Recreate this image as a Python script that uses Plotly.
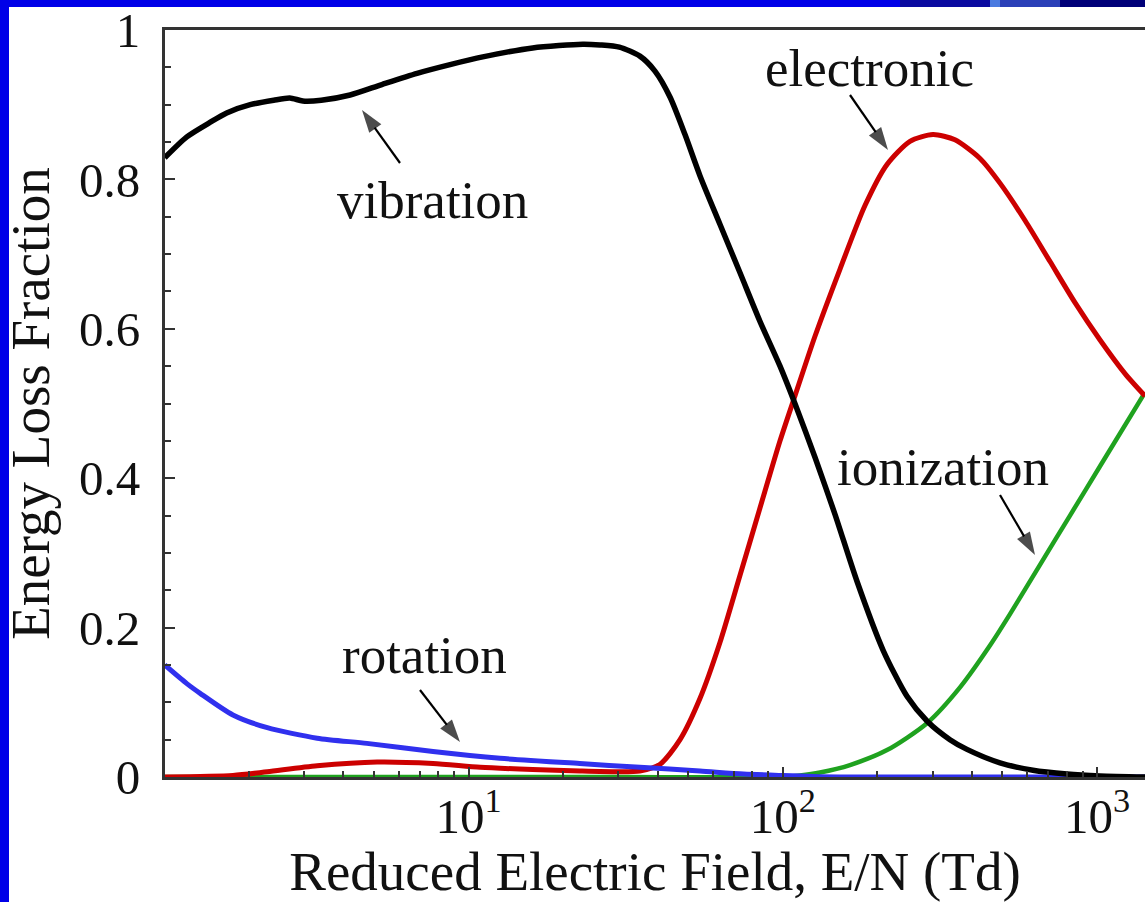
import plotly.graph_objects as go

# ---------------- data (E/N in Td, energy loss fraction) ----------------
vib_x = [1.08, 1.27, 1.50, 1.70, 2.02, 2.40, 2.70, 2.97, 3.4, 4.20, 5.3, 6.86, 8.8, 11.1,
         16.0, 23.1, 26.2, 30.2, 35.1, 39.2, 43.8, 48.85, 54.5, 63.1, 73.1, 84.6, 98.0,
         109.3, 126.6, 146.5, 172.2, 208.4, 248.4, 287.6, 340.4, 385.6, 491, 625, 802,
         1022, 1421]
vib_y = [0.829, 0.857, 0.876, 0.889, 0.900, 0.906, 0.909, 0.905, 0.906, 0.913, 0.927, 0.942,
         0.954, 0.964, 0.976, 0.981, 0.980, 0.977, 0.965, 0.945, 0.910, 0.860, 0.805,
         0.740, 0.675, 0.610, 0.550, 0.500, 0.428, 0.352, 0.262, 0.170, 0.108, 0.075,
         0.050, 0.037, 0.019, 0.009, 0.004, 0.0015, 0.0]

ele_x = [1.08, 1.78, 2.29, 3.30, 5.12, 7.71, 10.9, 16.0, 22.6, 30.0, 35.1, 40.7, 47.1,
         54.5, 63.1, 73.1, 84.6, 98.0, 109.3, 126.6, 152.1, 182.6, 214.6, 253.9, 300.5,
         353.1, 424.2, 491, 590, 708.5, 850.7, 1022, 1227, 1421]
ele_y = [0.0, 0.002, 0.007, 0.015, 0.020, 0.018, 0.013, 0.010, 0.008, 0.007, 0.008, 0.017,
         0.050, 0.105, 0.180, 0.270, 0.360, 0.450, 0.510, 0.590, 0.680, 0.765, 0.820,
         0.851, 0.860, 0.853, 0.828, 0.795, 0.745, 0.690, 0.635, 0.585, 0.540, 0.510]

ion_x = [1.08, 30, 100, 113.4, 131.3, 163.6, 214.6, 287.6, 366.3, 456.2, 528.3, 658.1,
         820.0, 1021.7, 1421]
ion_y = [0.0, 0.0, 0.0, 0.002, 0.006, 0.016, 0.036, 0.072, 0.120, 0.176, 0.218, 0.284,
         0.350, 0.416, 0.515]

rot_x = [1.08, 1.27, 1.40, 1.78, 2.29, 3.30, 4.75, 7.71, 12.6, 22.6, 35.1, 54.5, 75, 100,
         130, 170, 400, 1421]
rot_y = [0.150, 0.125, 0.112, 0.083, 0.066, 0.052, 0.045, 0.034, 0.025, 0.018, 0.013, 0.008,
         0.004, 0.002, 0.0005, 0.0, 0.0, 0.0]

y_ticks = [0, 0.2, 0.4, 0.6, 0.8, 1.0]
y_ticktext = ["0", "0.2", "0.4", "0.6", "0.8", "1"]
x_ticks = [10, 100, 1000]
x_ticktext = ["10<sup>1</sup>", "10<sup>2</sup>", "10<sup>3</sup>"]
x_minor = [m * 10 ** e for e in range(0, 4) for m in range(2, 10)]

FONT = "Liberation Serif, Times New Roman, serif"

fig = go.Figure()
series = [
    ("ionization", ion_x, ion_y, "#1fa21f", 4.5),
    ("electronic", ele_x, ele_y, "#cc0000", 5),
    ("rotation", rot_x, rot_y, "#3030ee", 5),
    ("vibration", vib_x, vib_y, "#000000", 5.5),
]
for name, xs, ys, col, w in series:
    fig.add_trace(go.Scatter(x=xs, y=ys, mode="lines", name=name,
                             line=dict(color=col, width=w, shape="spline", smoothing=0.7)))

# plot-area geometry (pixels) for helper conversions
L, R, T, B = 165, 1145, 30, 777
XL, XR = 0.0343, 3.1525


def px2log(px):
    return XL + (px - L) / (R - L) * (XR - XL)


def px2x(px):
    return 10 ** px2log(px)


def py2y(py):
    return (B - py) / (B - T)


labels = [
    ("vibration", 432, 200, 362, 110, 400, 163),
    ("electronic", 869, 68, 888, 150, 850, 95),
    ("ionization", 943, 467, 1035, 555, 1000, 495),
    ("rotation", 424, 655, 460, 742, 420, 690),
]
for txt, tx, ty, hx, hy, sx, sy in labels:
    fig.add_annotation(x=px2log(tx), y=py2y(ty), xref="x", yref="y", text=txt,
                       showarrow=False, font=dict(family=FONT, size=53, color="#111"),
                       xanchor="center", yanchor="middle")
    fig.add_trace(go.Scatter(x=[px2x(sx), px2x(hx)], y=[py2y(sy), py2y(hy)],
                             mode="lines+markers", showlegend=False, hoverinfo="skip",
                             line=dict(color="#000", width=2.2),
                             marker=dict(symbol="arrow", angleref="previous",
                                         size=[0, 24], color="#000",
                                         line=dict(width=0)),
                             cliponaxis=False))

# slide frame (blue) drawn as shapes in paper coordinates


def xp(px):
    return (px - L) / (R - L)


def yp(py):
    return (B - py) / (B - T)


frame = [
    (0, 0, 9, 902, "#0000e8"),
    (0, 0, 900, 7, "#0000e8"),
    (900, 0, 990, 7, "#0a0aa0"),
    (990, 0, 1000, 7, "#4a7ae0"),
    (1000, 0, 1060, 7, "#2a40b8"),
    (1060, 0, 1145, 7, "#000078"),
]
for x0, y0, x1, y1, c in frame:
    fig.add_shape(type="rect", xref="paper", yref="paper", x0=xp(x0), x1=xp(x1),
                  y0=yp(y1), y1=yp(y0), fillcolor=c, line=dict(width=0), layer="above")

axis_common = dict(showline=True, linecolor="#333333", linewidth=3, ticks="inside",
                   tickcolor="#333333", tickwidth=2, ticklen=10, showgrid=False,
                   zeroline=False, tickfont=dict(family=FONT, size=49, color="#111"))

fig.update_xaxes(type="log", range=[XL, XR], tickmode="array", tickvals=x_ticks,
                 ticktext=x_ticktext, mirror=True, ticklabelstandoff=-6,
                 minor=dict(ticks="inside", ticklen=6, tickcolor="#333333", tickwidth=1.5,
                            tickmode="array", tickvals=x_minor, showgrid=False),
                 title=dict(text="Reduced Electric Field, E/N (Td)", standoff=4,
                            font=dict(family=FONT, size=55, color="#111")),
                 **axis_common)
fig.update_yaxes(range=[0, 1], tickmode="array", tickvals=y_ticks, ticktext=y_ticktext,
                 ticklabelstandoff=12,
                 minor=dict(ticks="inside", ticklen=6, tickcolor="#333333", tickwidth=1.5,
                            dtick=0.05, showgrid=False),
                 title=dict(text="Energy Loss Fraction", standoff=18,
                            font=dict(family=FONT, size=55, color="#111")),
                 **axis_common)

fig.update_layout(width=1145, height=902, autosize=False,
                  margin=dict(l=L, r=1145 - R, t=T, b=902 - B, pad=0),
                  paper_bgcolor="white", plot_bgcolor="white", showlegend=False)

fig.write_html("out.html")
